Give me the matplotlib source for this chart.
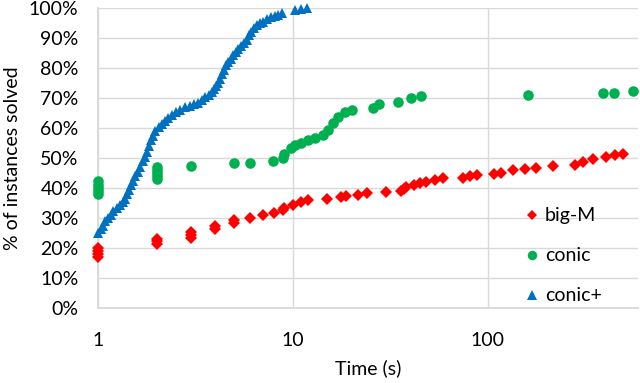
import matplotlib
matplotlib.use("Agg")
import matplotlib.pyplot as plt
from matplotlib.ticker import FixedLocator, NullLocator, FuncFormatter

plt.rcParams['font.family'] = ['Lato', 'DejaVu Sans']

# big-M (red diamonds): time (s), % solved
bigm_t = [1, 1, 1, 1, 2, 2, 2, 3, 3, 3, 4, 4, 5, 5, 6, 7, 8, 8.9, 9, 10, 11, 12,
          15, 17.7, 18.8, 21.6, 23.9, 30.2, 36, 37, 38, 41.6, 44.7, 48.4, 53.4, 59,
          74.8, 80.6, 87.6, 108, 117, 135, 155, 177, 215, 279, 308, 347, 406, 450, 494]
bigm_p = [17, 18, 19, 20, 21.5, 22.3, 23, 23.5, 24.5, 25.3, 26.3, 27.2, 28.3, 29.2, 30, 31, 31.8, 32.7, 33.4, 34.3, 35.4, 36,
          36.2, 37, 37.3, 37.7, 38.4, 38.8, 39, 39.8, 40.4, 41, 41.6, 42.1, 42.7, 43.2,
          43.4, 43.9, 44.3, 44.6, 45.1, 45.9, 46.2, 46.8, 47.2, 47.7, 48.6, 49.8, 50.4, 51, 51.5]

# conic (green circles)
conic_t = [1, 1, 1, 1, 1, 2, 2, 2, 2, 2, 3, 5, 6, 7.9, 8.9, 9, 9.8, 10.2, 11, 12,
           13, 14.3, 15.2, 16.1, 17, 18.5, 20, 25.8, 27.8, 34.6, 40.6, 45.7,
           161, 392, 444, 559]
conic_p = [38, 39, 40, 41, 42.5, 43, 44, 45, 46, 47, 47.3, 48.2, 48.4, 49.1, 50, 51.5, 53.2, 54.3, 55.1, 56,
           56.6, 57.7, 59.3, 61.6, 63.8, 65.5, 66, 66.8, 68, 68.8, 69.9, 70.6,
           71, 71.6, 71.8, 72.4]

# conic+ (blue triangles)
conicp_t = [1.00, 1.03, 1.06, 1.09, 1.12, 1.16, 1.20, 1.25, 1.30, 1.35, 1.38, 1.41, 1.44,
            1.47, 1.51, 1.55, 1.60, 1.65, 1.70, 1.75, 1.79, 1.83, 1.87, 1.91, 1.97,
            2.05, 2.12, 2.20, 2.30, 2.40, 2.52, 2.65, 2.80, 2.95, 3.10, 3.25, 3.40,
            3.55, 3.70, 3.85, 3.95, 4.05, 4.15, 4.25, 4.35, 4.45, 4.55, 4.65, 4.80,
            4.95, 5.10, 5.25, 5.40, 5.60, 5.80, 5.95, 6.10, 6.30, 6.55, 6.80, 7.05,
            7.35, 7.70, 8.05, 8.40, 8.80, 10.3, 11.0, 11.8]
conicp_p = [25, 26.5, 27.5, 29, 30, 31, 32.5, 33.5, 34.5, 35.5, 36.5, 38, 39.5,
            41, 42.5, 44, 45.5, 47, 49, 50.5, 52, 54, 56, 57.5, 59,
            60.5, 61.5, 62.5, 63.5, 64.5, 65.5, 66, 67, 67.5, 68, 68.5, 69.5,
            70.5, 71, 72, 73, 74, 75, 76.5, 78, 79.5, 81, 82, 83,
            84.5, 85.5, 86.5, 87.5, 88.5, 89.5, 91, 92, 93.5, 94.5, 95, 95.5,
            96.5, 97, 97.5, 97.7, 98.5, 99.3, 99.6, 100]

x_ticks = [1, 10, 100]
x_labels = ['1', '10', '100']
y_ticks = list(range(0, 101, 10))

fig = plt.figure(figsize=(6.4, 3.83), dpi=100)
ax = fig.add_axes([98/640, 75/383, 540/640, 300/383])

ax.plot(bigm_t, bigm_p, linestyle='none', marker='D', markersize=5.8, color='#FF0000',
        markeredgewidth=0, label='big-M', zorder=3, clip_on=False)
ax.plot(conic_t, conic_p, linestyle='none', marker='o', markersize=7.6, color='#00B050',
        markeredgewidth=0, label='conic', zorder=3, clip_on=False)
ax.plot(conicp_t, conicp_p, linestyle='none', marker='^', markersize=7.6, color='#0070C0',
        markeredgewidth=0, label='conic+', zorder=3, clip_on=False)

ax.set_xscale('log')
ax.set_xlim(1, 590)
ax.set_ylim(0, 100)
ax.xaxis.set_major_locator(FixedLocator(x_ticks))
ax.xaxis.set_minor_locator(NullLocator())
ax.set_xticklabels(x_labels)
ax.yaxis.set_major_locator(FixedLocator(y_ticks))
ax.yaxis.set_major_formatter(FuncFormatter(lambda v, p: f"{int(v)}%"))

ax.grid(True, which='major', color='#D9D9D9', linewidth=1.0, zorder=0)
ax.set_axisbelow(True)
for s in ['top', 'right']:
    ax.spines[s].set_visible(False)
for s in ['left', 'bottom']:
    ax.spines[s].set_color('#D9D9D9')
    ax.spines[s].set_linewidth(1.3)

ax.tick_params(axis='both', length=0, labelsize=14, labelcolor='#000000')
ax.tick_params(axis='x', pad=17)
ax.tick_params(axis='y', pad=14)

ax.set_xlabel('Time (s)', fontsize=14, labelpad=8)
ax.set_ylabel('% of instances solved', fontsize=14, labelpad=6)

fig.legend(loc='upper left', bbox_to_anchor=(526/640, 1 - 207.5/383), frameon=False,
           fontsize=14, borderpad=0, handlelength=0.6, handletextpad=0.37,
           labelspacing=1.18, numpoints=1, borderaxespad=0, markerscale=0.9)

fig.savefig('out.png', dpi=100)
